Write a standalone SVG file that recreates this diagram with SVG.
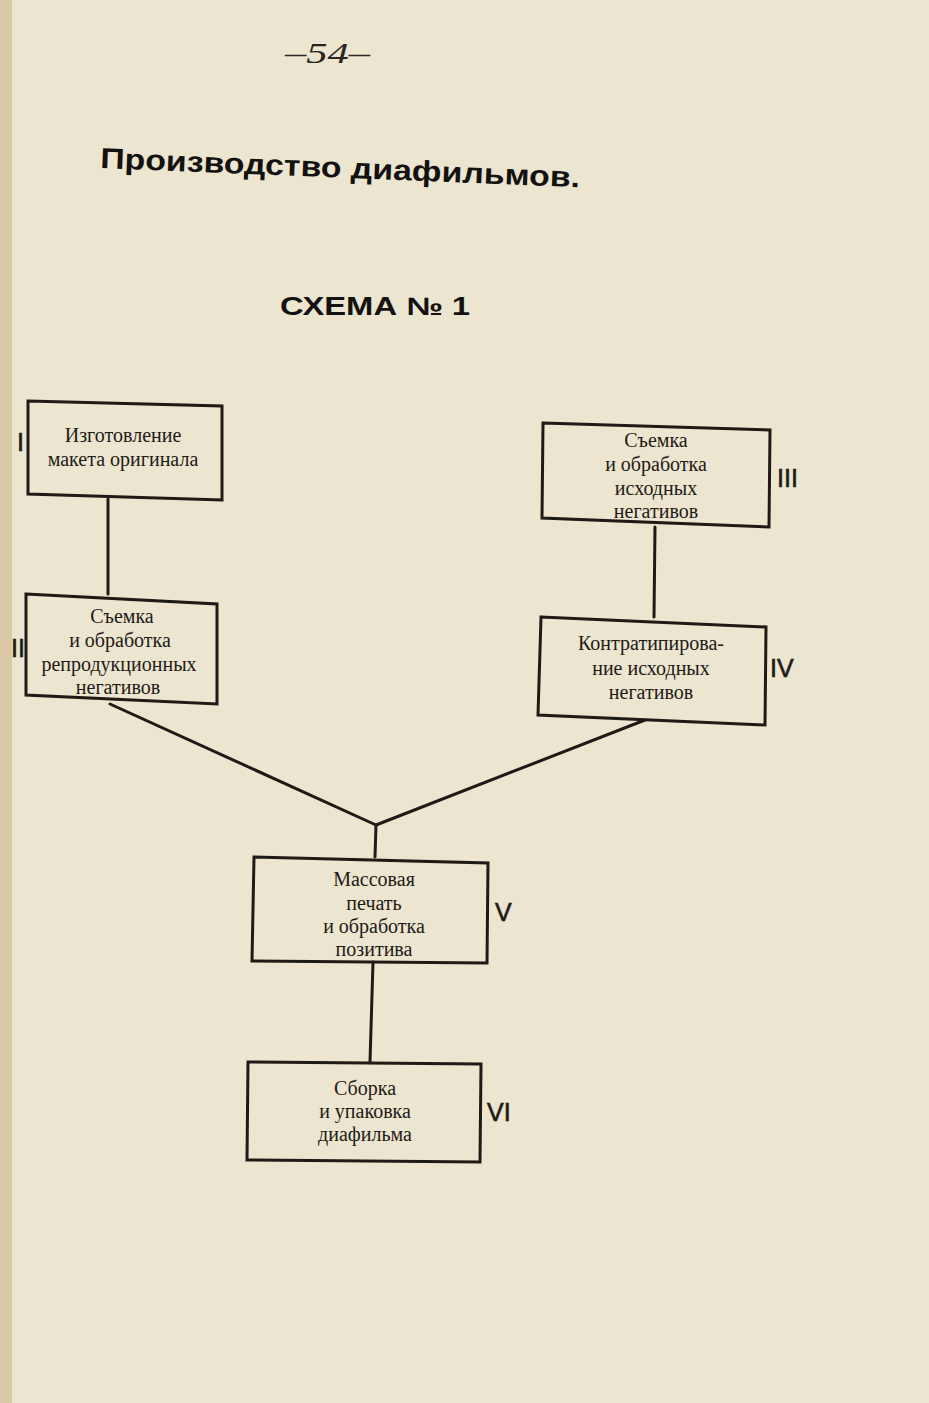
<svg xmlns="http://www.w3.org/2000/svg" width="929" height="1403" viewBox="0 0 929 1403">
<style>
.box{fill:none;stroke:#1e1a16;stroke-width:3}
.con{fill:none;stroke:#1e1a16;stroke-width:3;stroke-linecap:round}
.t{font-family:"Liberation Serif","DejaVu Serif",serif;font-size:20px;fill:#1e1a16;text-anchor:middle}
.num{font-family:"Liberation Sans","DejaVu Sans",sans-serif;font-size:25px;fill:#1e1a16;stroke:#1e1a16;stroke-width:0.6}
.title{font-family:"Liberation Sans","DejaVu Sans",sans-serif;font-weight:bold;fill:#141210}
</style>
<rect x="0" y="0" width="929" height="1403" fill="#ece5d0"/>
<rect x="0" y="0" width="12" height="1403" fill="#d9c9a6"/>
<text x="285" y="63" font-family="Liberation Serif, serif" font-style="italic" font-size="30" fill="#2a2622" textLength="85" lengthAdjust="spacingAndGlyphs">–54–</text>
<text class="title" x="100" y="168" font-size="29" textLength="480" lengthAdjust="spacingAndGlyphs" transform="rotate(2.3 100 168)">Производство диафильмов.</text>
<text class="title" x="280" y="315" font-size="25" textLength="190" lengthAdjust="spacingAndGlyphs">СХЕМА № 1</text>
<g id="connectors">
<line class="con" x1="108" y1="499" x2="108" y2="594"/>
<line class="con" x1="655" y1="527" x2="654" y2="617"/>
<line class="con" x1="110" y1="704" x2="376" y2="825"/>
<line class="con" x1="645" y1="720" x2="376" y2="825"/>
<line class="con" x1="376" y1="825" x2="375" y2="857"/>
<line class="con" x1="373" y1="962" x2="370" y2="1062"/>
</g>
<g id="node1">
<polygon class="box" points="28,401 222,406 222,500 28,494"/>
<text class="t" x="123" y="442">Изготовление</text>
<text class="t" x="123" y="466">макета оригинала</text>
<text class="num" x="17" y="451">I</text>
</g>
<g id="node2">
<polygon class="box" points="26,594 217,604 217,704 26,695"/>
<text class="t" x="122" y="623">Съемка</text>
<text class="t" x="120" y="647">и обработка</text>
<text class="t" x="119" y="671">репродукционных</text>
<text class="t" x="118" y="694">негативов</text>
<text class="num" x="11" y="657">II</text>
</g>
<g id="node3">
<polygon class="box" points="543,423 770,430 769,527 542,518"/>
<text class="t" x="656" y="447">Съемка</text>
<text class="t" x="656" y="471">и обработка</text>
<text class="t" x="656" y="495">исходных</text>
<text class="t" x="656" y="518">негативов</text>
<text class="num" x="777" y="487">III</text>
</g>
<g id="node4">
<polygon class="box" points="541,617 766,627 765,725 538,715"/>
<text class="t" x="651" y="650">Контратипирова-</text>
<text class="t" x="651" y="675">ние исходных</text>
<text class="t" x="651" y="699">негативов</text>
<text class="num" x="770" y="677">IV</text>
</g>
<g id="node5">
<polygon class="box" points="254,857 488,863 487,963 252,961"/>
<text class="t" x="374" y="886">Массовая</text>
<text class="t" x="374" y="910">печать</text>
<text class="t" x="374" y="933">и обработка</text>
<text class="t" x="374" y="956">позитива</text>
<text class="num" x="495" y="921">V</text>
</g>
<g id="node6">
<polygon class="box" points="248,1062 481,1064 480,1162 247,1160"/>
<text class="t" x="365" y="1095">Сборка</text>
<text class="t" x="365" y="1118">и упаковка</text>
<text class="t" x="365" y="1141">диафильма</text>
<text class="num" x="487" y="1121">VI</text>
</g>
</svg>
